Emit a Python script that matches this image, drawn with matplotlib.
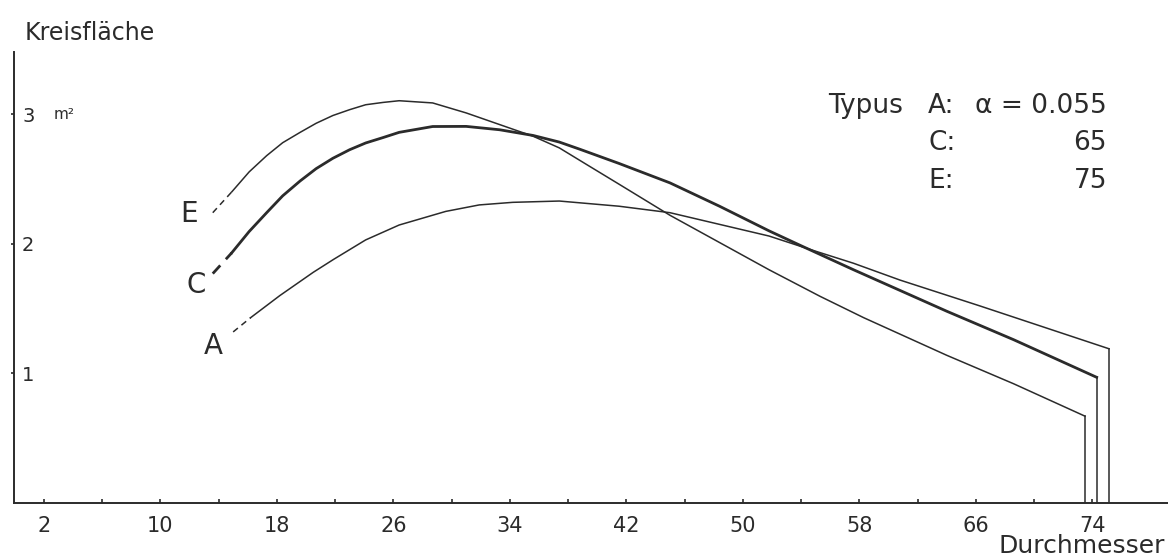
import numpy as np
import matplotlib
matplotlib.use("Agg")
from matplotlib import pyplot as plt

# Durchmesser (x) und Kreisfläche (y), abgelesen
# erster Abschnitt jeder Kurve ist gestrichelt
e_x = [13.6, 14.9, 16.1, 17.3, 18.4, 19.6, 20.7, 21.85, 23.0, 24.1, 25.3, 26.4,
       28.7, 31.0, 33.3, 35.6, 37.4, 39.3, 41.5, 45.0, 48.4, 51.8, 55.3, 58.3,
       64.0, 68.6, 73.5]
e_y = [2.24, 2.40, 2.555, 2.68, 2.78, 2.86, 2.93, 2.99, 3.035, 3.073, 3.091, 3.104,
       3.087, 3.01, 2.92, 2.83, 2.74, 2.61, 2.46, 2.22, 2.01, 1.80, 1.595, 1.43,
       1.14, 0.92, 0.67]

c_x = [13.6, 14.9, 16.1, 17.3, 18.4, 19.6, 20.7, 21.85, 23.0, 24.1, 25.3, 26.4,
       28.7, 31.0, 33.3, 35.6, 37.4, 38.8, 41.5, 45.0, 48.4, 51.8, 54.1, 57.6,
       59.4, 64.0, 68.6, 74.3]
c_y = [1.77, 1.93, 2.095, 2.24, 2.37, 2.485, 2.58, 2.66, 2.726, 2.778, 2.82, 2.86,
       2.905, 2.906, 2.88, 2.836, 2.785, 2.73, 2.62, 2.47, 2.29, 2.10, 1.98, 1.80,
       1.71, 1.48, 1.26, 0.97]

a_x = [15.0, 16.2, 18.2, 20.5, 21.9, 24.1, 26.4, 29.6, 31.9, 34.2, 37.4, 41.5,
       45.0, 48.4, 51.8, 54.8, 57.6, 60.8, 66.3, 75.15]
a_y = [1.32, 1.43, 1.60, 1.78, 1.88, 2.03, 2.145, 2.25, 2.30, 2.32, 2.33, 2.29,
       2.24, 2.15, 2.06, 1.95, 1.85, 1.72, 1.52, 1.19]

curves = [("E", e_x, e_y, 1.1, (12.0, 2.23)),
          ("C", c_x, c_y, 2.0, (12.45, 1.68)),
          ("A", a_x, a_y, 1.1, (13.66, 1.21))]

x_major = list(range(2, 75, 8))
x_minor = list(range(6, 75, 8))
y_ticks = [1, 2, 3]

ink = "#2b2b2b"
plt.rcParams["font.family"] = ["DejaVu Sans"]

fig = plt.figure(figsize=(11.68, 5.6), dpi=100)
ax = fig.add_axes([14 / 1168, 57 / 560, 1 - 14 / 1168, (503 - 52) / 560])

for name, xs, ys, lw, (lx, ly) in curves:
    ax.plot(xs[:2], ys[:2], color=ink, lw=lw, linestyle=(0, (4, 3)))
    ax.plot(xs[1:], ys[1:], color=ink, lw=lw, solid_joinstyle="round")
    ax.plot([xs[-1], xs[-1]], [ys[-1], 0], color=ink, lw=1.1)
    ax.text(lx, ly, name, fontsize=20, color=ink, ha="center", va="center")

ax.set_xlim(-0.05, 79.2)
ax.set_ylim(0, 3.48)

for s in ["top", "right"]:
    ax.spines[s].set_visible(False)
for s in ["left", "bottom"]:
    ax.spines[s].set_color(ink)
    ax.spines[s].set_linewidth(1.4)

ax.set_xticks(x_major)
ax.set_xticks(x_minor, minor=True)
ax.set_xticklabels([str(v) for v in x_major])
ax.tick_params(axis="x", which="both", direction="in", length=3, width=1.2,
               color=ink, labelsize=15, labelcolor=ink, pad=9)

ax.set_yticks(y_ticks)
ax.set_yticklabels([str(v) for v in y_ticks])
ax.tick_params(axis="y", direction="out", length=2.5, width=1.2, color=ink,
               labelsize=14, labelcolor=ink, pad=-8.3)
for lab in ax.get_yticklabels():
    lab.set_horizontalalignment("left")

ax.text(2.7, 3, "m²", fontsize=11, color=ink, va="center", ha="left")

fig.text(25 / 1168, 1 - 40 / 560, "Kreisfläche", fontsize=17, color=ink,
         va="baseline", ha="left")
fig.text(1165 / 1168, 1 - 553 / 560, "Durchmesser", fontsize=18, color=ink,
         va="baseline", ha="right")

# Legende oben rechts
fs = 19
fig.text(828 / 1168, 1 - 113 / 560, "Typus", fontsize=fs, color=ink, va="baseline")
rows = [("A:", "α = 0.055"), ("C:", "65"), ("E:", "75")]
for i, (k, v) in enumerate(rows):
    yb = 1 - (113 + i * 37.5) / 560
    fig.text(928 / 1168, yb, k, fontsize=fs, color=ink, va="baseline")
    fig.text(1107 / 1168, yb, v, fontsize=fs, color=ink, va="baseline", ha="right")

fig.savefig("out.png", dpi=100, facecolor="white")
